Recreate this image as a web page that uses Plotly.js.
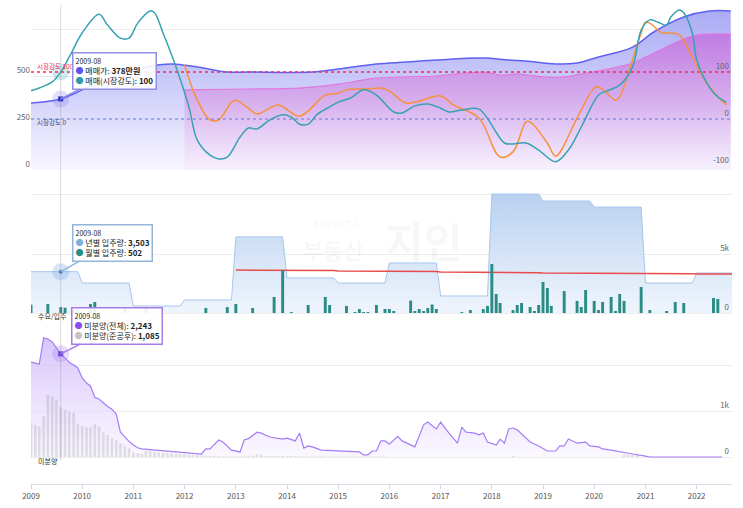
<!DOCTYPE html>
<html><head><meta charset="utf-8">
<script src="https://cdn.plot.ly/plotly-3.0.1.min.js"></script>
<style>html,body{margin:0;padding:0;background:#fff;}#chart{width:743px;height:508px;}</style>
</head><body><div id="chart"></div>
<script>
const FONT = '"Noto Sans CJK KR", "Noto Sans", sans-serif';

// ---------- top panel ----------
const priceDates = ['2009-01','2009-08','2010-01','2010-05','2011-01','2011-04','2011-10','2012-04','2012-11','2013-04','2014-07','2015-01','2015-10','2016-05','2016-12','2017-11','2018-05','2018-09','2019-04','2019-09','2020-02','2020-10','2021-03','2021-10','2022-04','2022-09'];
const priceValues = [356,378,426,468,527,548,564,548,521,521,521,537,564,574,585,596,585,580,564,569,601,654,734,814,846,846];

const jeonseDates = ['2012-01','2013-04','2014-04','2015-01','2015-10','2016-12','2017-11','2018-03','2018-07','2019-01','2019-06','2019-10','2020-02','2020-10','2021-01','2021-10','2022-01','2022-09'];
const jeonseValues = [426,431,436,457,489,500,521,505,511,495,495,511,527,569,601,697,718,723];

const strengthDates = ['2009-01','2009-03','2009-06','2009-08','2009-10','2010-01','2010-05','2010-07','2010-10','2010-12','2011-02','2011-05','2011-06','2011-08','2011-11','2012-02','2012-04','2012-07','2012-09','2012-11','2013-02','2013-04','2013-06','2013-09','2013-12','2014-02','2014-04','2014-06','2014-08','2014-11','2015-01','2015-04','2015-07','2015-10','2016-02','2016-04','2016-07','2016-10','2017-01','2017-03','2017-06','2017-10','2018-04','2018-06','2018-09','2018-12','2019-04','2019-07','2019-10','2020-02','2020-04','2020-07','2020-10','2020-12','2021-02','2021-04','2021-06','2021-07','2021-09','2021-10','2021-12','2022-01','2022-04','2022-06','2022-08'];
const strengthValues = [60,66,79,100,132,183,223,200,172,172,204,230,226,183,111,26,-45,-77,-85,-81,-38,-19,-21,-2,9,4,-11,-11,9,26,36,45,62,51,15,13,28,32,23,15,19,21,-51,-53,-51,-66,-91,-66,-17,51,60,72,111,189,211,206,200,217,232,226,183,126,68,47,36];

const jeonseStrengthDates = ['2012-01','2012-04','2012-07','2012-09','2012-12','2013-01','2013-04','2013-06','2013-11','2014-04','2014-10','2015-01','2015-03','2015-08','2015-11','2016-01','2016-05','2017-01','2017-04','2017-10','2018-03','2018-06','2018-09','2018-10','2019-02','2019-04','2019-09','2020-01','2020-02','2020-04','2020-06','2020-07','2020-09','2020-12','2021-01','2021-02','2021-05','2021-07','2021-09','2021-12','2022-03','2022-06','2022-08'];
const jeonseStrengthValues = [115,40,-2,-2,36,40,23,11,30,6,51,55,62,64,66,60,34,49,30,2,-81,-70,-6,-6,-51,-79,2,66,68,55,40,47,98,183,206,204,183,183,179,132,83,47,30];

// ---------- middle panel ----------
const supplyYears = [2009,2010,2011,2012,2013,2014,2015,2016,2017,2018,2019,2020,2021,2022];
const yearlySupply = [3503,2540,590,1100,6450,2970,2540,4240,1440,10080,9490,8980,2540,3390];
const demandYears = [2013,2014,2015,2016,2017,2018,2019,2020,2021,2022];
const demandValues = [3640,3600,3560,3520,3470,3420,3390,3360,3330,3300];
const supplyMonths = ['2009-01','2009-05','2009-08','2009-09','2009-11','2009-12','2010-03','2010-04','2010-11','2011-04','2012-06','2012-11','2013-01','2013-05','2013-10','2013-12','2014-02','2014-06','2014-10','2014-11','2015-03','2015-05','2015-06','2015-07','2015-08','2015-10','2015-12','2016-01','2016-02','2016-06','2016-07','2016-08','2016-09','2016-10','2016-11','2016-12','2017-06','2017-08','2017-11','2017-12','2018-01','2018-02','2018-03','2018-06','2018-07','2018-08','2018-10','2018-11','2018-12','2019-01','2019-02','2019-03','2019-06','2019-09','2019-10','2019-11','2020-01','2020-02','2020-03','2020-05','2020-06','2020-07','2020-08','2020-12','2021-02','2021-06','2021-08','2021-10','2022-05','2022-06'];
const supplyValues = [700,760,502,450,250,500,760,930,500,450,420,500,760,420,1360,3640,80,680,1360,680,600,80,340,80,80,680,340,340,170,1050,170,340,170,420,720,340,80,250,330,600,4150,1610,850,250,680,850,510,170,680,2630,2120,600,1860,1020,510,1950,1020,250,930,1360,170,1610,1020,2200,250,170,930,850,1270,1190];

// ---------- bottom panel ----------
const unsoldDates = ['2009-01','2009-03','2009-04','2009-05','2009-06','2009-08','2009-09','2009-10','2009-11','2009-12','2010-01','2010-02','2010-03','2010-04','2010-05','2010-06','2010-07','2010-08','2010-09','2010-10','2010-11','2010-12','2011-01','2011-02','2011-03','2011-06','2011-09','2012-01','2012-05','2012-06','2012-07','2012-09','2012-10','2012-12','2013-02','2013-03','2013-04','2013-06','2013-07','2013-09','2013-11','2013-12','2014-01','2014-03','2014-04','2014-05','2014-06','2014-07','2014-09','2015-01','2015-04','2015-06','2015-07','2015-08','2015-09','2015-10','2015-11','2015-12','2016-01','2016-03','2016-04','2016-07','2016-09','2016-10','2016-12','2017-01','2017-03','2017-05','2017-06','2017-07','2017-09','2017-10','2017-11','2017-12','2018-02','2018-03','2018-04','2018-05','2018-06','2018-07','2018-10','2018-12','2019-02','2019-04','2019-05','2019-06','2019-07','2019-09','2019-11','2019-12','2020-02','2020-03','2020-05','2020-07','2020-09','2020-10','2021-01','2021-02','2022-07'];
const unsoldValues = [2065,2020,2590,2565,2500,2243,2150,2060,2000,1935,1720,1610,1545,1300,1260,1170,1100,1040,935,540,435,340,260,200,175,150,130,85,65,175,175,370,325,150,110,370,400,540,520,435,410,390,410,350,520,195,240,220,150,130,130,110,45,45,130,130,350,350,280,450,350,220,700,760,610,760,520,300,650,540,520,480,520,325,260,390,300,610,630,590,325,240,130,130,240,240,390,300,325,240,220,175,150,110,85,65,20,0,0];
const doneUnsoldStart = '2009-01';
const doneUnsoldMonthly = [745,695,660,890,1350,1310,1240,1085,1030,985,965,730,
  680,645,645,710,660,535,480,405,370,300,245,190,
  100,80,65,130,130,115,100,95,80,80,65,60,
  55,50,45,40,30,25,20,20,15,15,15,15,
  15,15,15,20,30,60,50,20,20,20,20,20,
  20,20,20,20,15,15,15,15,15,10,10,10,
  10,10,10,10,10,10,10,10,10,10,10,10];
const doneUnsoldExtraDates = ['2018-06','2020-08','2020-09','2020-10','2020-11'];
const doneUnsoldExtraValues = [20,50,45,45,40];

const yearTicks = [2009,2010,2011,2012,2013,2014,2015,2016,2017,2018,2019,2020,2021,2022];
const hoverMonth = '2009-08';
const strengthHigh = 100, strengthZero = 0;
const xStart = '2009-01-01', xEnd = '2022-09-10';

// ---------- helpers ----------
function monthSeq(start, n){ let [y,m] = start.split('-').map(Number); const out=[]; for(let i=0;i<n;i++){ out.push(y+'-'+String(m).padStart(2,'0')); m++; if(m>12){m=1;y++;} } return out; }
function yearlySteps(years, vals){ const xs=[], ys=[]; years.forEach((yr,i)=>{ xs.push(yr+'-01-01'); ys.push(vals[i]); xs.push(i===years.length-1 ? xEnd : yr+'-12-01'); ys.push(vals[i]); }); return {xs, ys}; }
const at = (d, v, k) => v[d.indexOf(k)];
const fmt = n => n.toLocaleString('en-US');

const doneDates = monthSeq(doneUnsoldStart, doneUnsoldMonthly.length).concat(doneUnsoldExtraDates);
const doneValues = doneUnsoldMonthly.concat(doneUnsoldExtraValues);
const supplyStep = yearlySteps(supplyYears, yearlySupply);
const demandStep = yearlySteps(demandYears, demandValues);

const W=743, H=508, mt=5, mb=24, ml=31, mr=11;
const plotH = H-mt-mb, plotW = W-ml-mr;
const py = p => (H-mb-p)/plotH;
const px = p => (p-ml)/plotW;

const hx = hoverMonth + '-01';
const hPrice = at(priceDates, priceValues, hoverMonth);
const hStr = at(strengthDates, strengthValues, hoverMonth);
const hYear = yearlySupply[supplyYears.indexOf(+hoverMonth.slice(0,4))];
const hMonth = at(supplyMonths, supplyValues, hoverMonth);
const hUnsold = at(unsoldDates, unsoldValues, hoverMonth);
const hDone = at(doneDates, doneValues, hoverMonth);

const traces = [
  {x: priceDates, y: priceValues, xaxis:'x', yaxis:'y', type:'scatter', mode:'lines', line:{color:'#6060f2', width:1.5, shape:'spline'}, fill:'tozeroy',
   fillgradient:{type:'vertical', start:0, stop:850, colorscale:[[0,'rgba(248,246,255,0.9)'],[1,'rgba(150,150,242,0.8)']]}},
  {x: jeonseDates, y: jeonseValues, xaxis:'x', yaxis:'y', type:'scatter', mode:'lines', line:{color:'#df78df', width:1.2, shape:'spline'}, fill:'tozeroy',
   fillgradient:{type:'vertical', start:0, stop:730, colorscale:[[0,'rgba(248,236,252,0.55)'],[0.5,'rgba(215,160,232,0.72)'],[1,'rgba(195,110,222,0.82)']]}},
  {x: jeonseStrengthDates, y: jeonseStrengthValues, xaxis:'x', yaxis:'y2', type:'scatter', mode:'lines', line:{color:'#f7913d', width:1.5, shape:'spline'}},
  {x: strengthDates, y: strengthValues, xaxis:'x', yaxis:'y2', type:'scatter', mode:'lines', line:{color:'#36a2b2', width:1.5, shape:'spline'}},
  {x: supplyStep.xs, y: supplyStep.ys, xaxis:'x', yaxis:'y3', type:'scatter', mode:'lines', line:{color:'#a6c7ec', width:1}, fill:'tozeroy',
   fillgradient:{type:'vertical', start:0, stop:10100, colorscale:[[0,'rgba(236,243,252,0.85)'],[1,'rgba(176,204,238,0.9)']]}},
  {x: demandStep.xs, y: demandStep.ys, xaxis:'x', yaxis:'y3', type:'scatter', mode:'lines', line:{color:'#e84b4b', width:1.5}},
  {x: supplyMonths, y: supplyValues, xaxis:'x', yaxis:'y5', type:'bar', marker:{color:'#2a8c85'}, width:1.8e9},
  {x: doneDates, y: doneValues, xaxis:'x', yaxis:'y4', type:'bar', marker:{color:'#bdbdbd'}, width:1.6e9},
  {x: unsoldDates, y: unsoldValues, xaxis:'x', yaxis:'y4', type:'scatter', mode:'lines', line:{color:'#a67cf5', width:1.2}, fill:'tozeroy',
   fillgradient:{type:'vertical', start:0, stop:2600, colorscale:[[0,'rgba(247,243,255,0.6)'],[1,'rgba(198,172,250,0.7)']]}},
  // hover highlights
  {x:[hx], y:[hPrice], xaxis:'x', yaxis:'y', type:'scatter', mode:'markers', marker:{size:17, color:'rgba(110,110,240,0.22)'}},
  {x:[hx], y:[hPrice], xaxis:'x', yaxis:'y', type:'scatter', mode:'markers', marker:{size:5, symbol:'square', color:'#2c2cd0'}},
  {x:[hx], y:[hStr], xaxis:'x', yaxis:'y2', type:'scatter', mode:'markers', marker:{size:17, color:'rgba(60,170,180,0.25)'}},
  {x:[hx], y:[hYear], xaxis:'x', yaxis:'y3', type:'scatter', mode:'markers', marker:{size:17, color:'rgba(120,170,230,0.3)'}},
  {x:[hx], y:[hYear], xaxis:'x', yaxis:'y3', type:'scatter', mode:'markers', marker:{size:4, color:'#4a7fc0'}},
  {x:[hx], y:[hUnsold], xaxis:'x', yaxis:'y4', type:'scatter', mode:'markers', marker:{size:17, color:'rgba(165,125,240,0.28)'}},
  {x:[hx], y:[hUnsold], xaxis:'x', yaxis:'y4', type:'scatter', mode:'markers', marker:{size:5, symbol:'square', color:'#6d3fe0'}}
];

const tickFont = {family:FONT, size:8, color:'#666'};
const gridC = '#ececec';
const tipFont = {family:FONT, size:8, color:'#222'};
const head = s => '<span style="font-size:7px">'+s+'</span>';
const dot = c => '<span style="color:'+c+'">●</span>';

const tip1 = head(hoverMonth)+'<br>'+dot('#5b52ef')+' 매매가: <b>'+hPrice+'만원</b><br>'+dot('#2d9aa8')+' 매매(시장강도): <b>'+hStr+'</b>';
const tip2 = head(hoverMonth)+'<br>'+dot('#7fb0e0')+' 년별 입주량: <b>'+fmt(hYear)+'</b><br>'+dot('#2a8c85')+' 월별 입주량: <b>'+fmt(hMonth)+'</b>';
const tip3 = head(hoverMonth)+'<br>'+dot('#8a4df0')+' 미분양(전체): <b>'+fmt(hUnsold)+'</b><br>'+dot('#c4c4c4')+' 미분양(준공후): <b>'+fmt(hDone)+'</b>';

function tip(text, y, yref, ax, ay, color){
  return {x:hx, y:y, xref:'x', yref:yref, text:text, showarrow:true, arrowhead:0, arrowwidth:1.5, arrowcolor:color,
    ax:ax, ay:ay, bordercolor:color, borderwidth:1.5, borderpad:2, bgcolor:'rgba(255,255,255,0.9)', align:'left', font:tipFont, standoff:0};
}

const annotations = [
  {xref:'paper', yref:'paper', x:px(336), y:py(223), text:'B I G D A T A', showarrow:false, font:{family:FONT, size:8, color:'rgba(0,0,0,0.07)'}},
  {xref:'paper', yref:'paper', x:px(333), y:py(249), text:'<b>부동산</b>', showarrow:false, font:{family:FONT, size:22, color:'rgba(0,0,0,0.05)'}},
  {xref:'paper', yref:'paper', x:px(423), y:py(240), text:'<b>지인</b>', showarrow:false, font:{family:FONT, size:42, color:'rgba(0,0,0,0.05)'}},
  {xref:'paper', yref:'paper', x:px(35), y:py(66), xanchor:'left', yanchor:'middle', text:'시장강도 100', showarrow:false, font:{family:FONT, size:6.5, color:'#f0304f'}},
  {xref:'paper', yref:'paper', x:px(35), y:py(122), xanchor:'left', yanchor:'middle', text:'시장강도 0', showarrow:false, font:{family:FONT, size:6.5, color:'#44495a'}},
  {xref:'paper', yref:'paper', x:px(36), y:py(316), xanchor:'left', yanchor:'middle', text:'수요/입주', showarrow:false, font:{family:FONT, size:7, color:'#333'}},
  {xref:'paper', yref:'paper', x:px(36), y:py(461), xanchor:'left', yanchor:'middle', text:'미분양', showarrow:false, font:{family:FONT, size:7, color:'#333'}},
  tip(tip1, hPrice, 'y', 54, -28, '#8f8fe6'),
  tip(tip2, hYear, 'y3', 52, -29, '#93b5da'),
  tip(tip3, hUnsold, 'y4', 56, -28, '#a57ce8')
];

const layout = {
  width:W, height:H, margin:{l:ml, r:mr, t:mt, b:mb},
  paper_bgcolor:'#fff', plot_bgcolor:'rgba(0,0,0,0)', showlegend:false, hovermode:false,
  font:{family:FONT, size:8, color:'#555'},
  barmode:'overlay',
  xaxis:{type:'date', anchor:'y4', range:[xStart, xEnd], tickvals:yearTicks.map(y=>y+'-01-01'), ticktext:yearTicks.map(String),
    showgrid:false, showline:true, linecolor:'#d9e0eb', linewidth:1, ticks:'outside', ticklen:4, tickcolor:'#cfd7e4', tickfont:{family:FONT,size:8,color:'#555'}, zeroline:false, fixedrange:true},
  yaxis:{domain:[py(170),1], range:[0,877.7], tickvals:[0,250,500,750], ticktext:['0','250','500',''], showgrid:true, gridcolor:gridC, zeroline:false,
    ticklabelposition:'outside top', tickfont:tickFont, ticks:'', fixedrange:true},
  yaxis2:{overlaying:'y', side:'right', range:[-108.5,242.6], tickvals:[-100,0,100], ticktext:['-100','0','100'], showgrid:false, zeroline:false,
    ticklabelposition:'inside top', tickfont:tickFont, ticks:'', fixedrange:true},
  yaxis3:{domain:[py(318),py(185)], side:'right', range:[-424,10847], tickvals:[0,5000,10000], ticktext:['0','5k',''], showgrid:true, gridcolor:gridC, zeroline:false,
    ticklabelposition:'inside top', tickfont:tickFont, ticks:'', fixedrange:true},
  yaxis4:{domain:[0,py(330)], side:'right', range:[-587,2761], tickvals:[0,1000,2000], ticktext:['0','1k',''], showgrid:true, gridcolor:gridC, zeroline:false,
    ticklabelposition:'inside top', tickfont:tickFont, ticks:'', fixedrange:true},
  yaxis5:{overlaying:'y3', range:[-424,10847], visible:false, fixedrange:true},
  shapes:[
    {type:'line', xref:'paper', x0:0, x1:1, yref:'y2', y0:strengthHigh, y1:strengthHigh, line:{color:'#ff2a55', width:1.5, dash:'dot'}},
    {type:'line', xref:'paper', x0:0, x1:1, yref:'y2', y0:strengthZero, y1:strengthZero, line:{color:'#5b78e6', width:1, dash:'dot'}},
    {type:'line', xref:'x', x0:hx, x1:hx, yref:'paper', y0:py(460), y1:1, line:{color:'rgba(150,150,150,0.35)', width:1}}
  ],
  annotations: annotations
};

Plotly.newPlot('chart', traces, layout, {staticPlot:true, displayModeBar:false});
</script></body></html>
